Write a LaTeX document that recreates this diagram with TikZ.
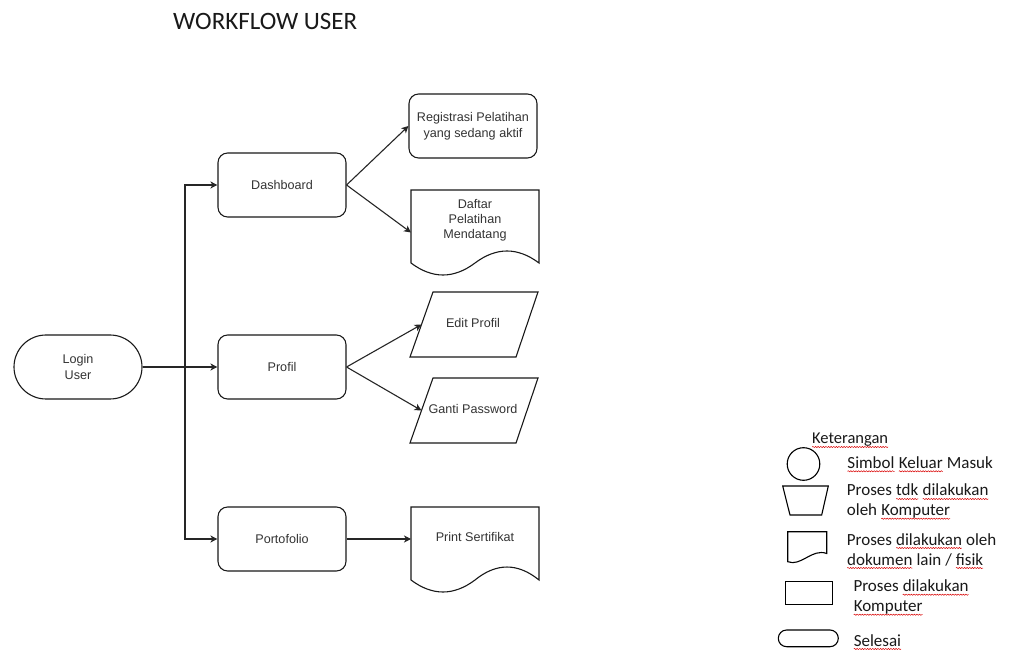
\documentclass[tikz,border=0pt]{standalone}
\usepackage{fontspec}
\setmainfont{Liberation Sans}
\newfontfamily\calfont{Carlito}
\usetikzlibrary{arrows.meta,decorations.pathmorphing}
\newcommand\sqw[1]{\tikz[baseline=(sqwn.base)]{\node[inner sep=0pt,outer sep=0pt,anchor=base](sqwn){#1};\draw[red!85!black,line width=0.5pt,decorate,decoration={snake,amplitude=0.6pt,segment length=2.6pt}]([yshift=-3pt]sqwn.base west)--([yshift=-3pt]sqwn.base east);}}
\begin{document}
\begin{tikzpicture}[x=1pt,y=-1pt,
  shapeline/.style={draw=black!90,line width=1.1pt},
  proc/.style={shapeline,rectangle,rounded corners=9.6pt,minimum width=128pt,minimum height=64pt,inner sep=0pt,align=center,text=black!80,font=\fontsize{12.6}{15.5}\selectfont},
  term/.style={proc,rounded corners=32pt},
  area/.style={rectangle,inner sep=0pt,outer sep=0pt},
  txt/.style={inner sep=0pt,align=center,text=black!80,font=\fontsize{12.6}{15}\selectfont},
  conn/.style={draw=black!85,line width=1.1pt},
  arr/.style={conn,-{Stealth[length=7pt,width=7pt,inset=2pt]}},
  leg/.style={draw=black,line width=1.1pt},
  legtxt/.style={inner sep=0pt,anchor=base west,text=black!90,font=\calfont\fontsize{17}{20}\selectfont}
]
\useasboundingbox (0,0) rectangle (1013,652);

% title
\node[inner sep=0pt,anchor=base west,text=black!90,font=\calfont\fontsize{25}{30}\selectfont] (title) at (173,29.3) {WORKFLOW USER};

% main nodes
\node[term] (login) at (78,367) {Login\\User};
\node[proc] (dash) at (282,185) {Dashboard};
\node[proc] (prof) at (282,367) {Profil};
\node[proc] (port) at (282,539) {Portofolio};
\node[proc] (reg) at (473,126) {Registrasi Pelatihan\\yang sedang aktif};

% document: Daftar Pelatihan Mendatang
\node[area,minimum width=128pt,minimum height=85pt] (daftar) at (475,232.5) {};
\draw[shapeline] (411,190) -- (539,190) -- (539,263)
  .. controls (517.7,247) and (496.3,247) .. (475,263)
  .. controls (453.7,279) and (432.3,279) .. (411,263) -- cycle;
\node[txt] (daftartext) at (475,220) {Daftar\\Pelatihan\\Mendatang};

% parallelograms
\node[area,minimum width=105pt,minimum height=65pt] (edit) at (474,324.5) {};
\draw[shapeline] (433,292) -- (538,292) -- (516,357) -- (410,357) -- cycle;
\node[txt] (edittext) at (473,323) {Edit Profil};

\node[area,minimum width=105pt,minimum height=65pt] (ganti) at (474,410.5) {};
\draw[shapeline] (433,378) -- (538,378) -- (516,443) -- (410,443) -- cycle;
\node[txt] (gantitext) at (473,409) {Ganti Password};

% document: Print Sertifikat
\node[area,minimum width=128pt,minimum height=85pt] (print) at (475,549.5) {};
\draw[shapeline] (411,507) -- (539,507) -- (539,580)
  .. controls (517.7,562.7) and (496.3,562.7) .. (475,580)
  .. controls (453.7,596) and (432.3,596) .. (411,580) -- cycle;
\node[txt] (printtext) at (475,537) {Print Sertifikat};

% connectors
\coordinate (j) at (185,367);
\draw[arr] (login.east) -- (prof.west);
\draw[arr] (j) |- (dash.west);
\draw[arr] (j) |- (port.west);
\draw[arr] (dash.east) -- (reg.west);
\draw[arr] (dash.east) -- (daftar.west);
\draw[arr] (prof.east) -- (edit.west);
\draw[arr] (prof.east) -- (ganti.west);
\draw[arr] (port.east) -- (port.east -| print.west);

% legend
\node[legtxt,font=\calfont\fontsize{16.5}{20}\selectfont] (ket) at (811.7,444) {\sqw{Keterangan}};
\node[leg,circle,minimum size=32.6pt,inner sep=0pt] (lcirc) at (803.5,464) {};
\node[legtxt] (l1) at (847,468.3) {\sqw{Simbol} \sqw{Keluar} Masuk};

\draw[leg] (782.7,486) -- (828.3,486) -- (821.7,515) -- (790,515) -- cycle;
\node[legtxt] (l2a) at (846.7,496) {Proses \sqw{tdk} \sqw{dilakukan}};
\node[legtxt] (l2b) at (846.7,515.7) {oleh \sqw{Komputer}};

\draw[leg] (787.7,531.7) -- (826.7,531.7) -- (826.7,553.5)
  .. controls (812,548) and (801,567) .. (787.7,561.7) -- cycle;
\node[legtxt] (l3a) at (846.7,545) {Proses \sqw{dilakukan} oleh};
\node[legtxt] (l3b) at (846.7,565) {\sqw{dokumen} lain / \sqw{fisik}};

\draw[leg] (785.7,581.7) rectangle (832.7,604.3);
\node[legtxt] (l4a) at (853.3,591.7) {Proses \sqw{dilakukan}};
\node[legtxt] (l4b) at (853.3,611.7) {\sqw{Komputer}};

\draw[leg,rounded corners=8.3pt] (778.3,630) rectangle (838.3,646.7);
\node[legtxt] (l5) at (853.3,646) {\sqw{Selesai}};
\end{tikzpicture}
\end{document}
